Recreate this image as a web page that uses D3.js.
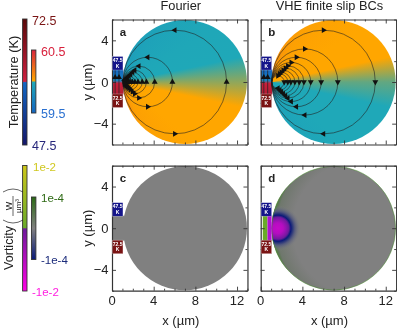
<!DOCTYPE html>
<html>
<head>
<meta charset="utf-8">
<script src="https://cdn.jsdelivr.net/npm/d3@7"></script>
<style>
  html, body { margin: 0; padding: 0; background: #fff; }
  #wrap { position: relative; width: 397px; height: 328px; overflow: hidden; }
  canvas, svg { position: absolute; left: 0; top: 0; }
  text { font-family: "Liberation Sans", Arial, sans-serif; fill: #222; }
  .axis path { stroke: #333; stroke-width: 1.2; }
  .axis line { stroke: #333; stroke-width: 0.9; }
</style>
</head>
<body>
<div id="wrap">
  <canvas id="field" width="397" height="328"></canvas>
  <svg id="chart" width="397" height="328"></svg>
</div>
<script>
const panelNames = ['a', 'b', 'c', 'd'];
const titles = ['Fourier', 'VHE finite slip BCs'];
const xTicks = [0, 4, 8, 12];
const xMinor = [1, 2, 3, 5, 6, 7, 9, 10, 11, 13];
const yTicks = [-4, 0, 4];
const yMinor = [-6, -2, 2, 6];

// disc and contacts, in µm
const discCentre = 7;
const discRadius = 5.95;
const sourceX = 1.05;
const leadLines = [0.3, 0.67];

// temperature round the source, angle clockwise from +x (degrees)
const fieldAngles = [0, 12, 40, 66, 80, 90, 270, 280, 300, 330, 348, 360];
const fieldTempA = [60.0, 60.05, 60.05, 60.07, 60.13, 60.2, 59.84, 59.87, 59.91, 59.94, 59.95, 60.0];
const fieldTempB = [59.98, 59.95, 59.95, 59.92, 59.87, 59.84, 60.2, 60.13, 60.07, 60.05, 60.05, 59.98];

// x where each streamline crosses the axis
const streamA = [11, 5.8, 4.1, 3.3, 2.9, 2.5, 2.2, 1.95, 1.75, 1.6, 1.45, 1.35];
const streamB = [11, 7.4, 5.8, 4.8, 4.15, 3.7, 3.28, 2.9, 2.6, 2.26];

// vorticity out from the blob centre in panel d
const blobRadius = [0, 0.5, 0.8, 1.05, 1.25, 1.6, 2.2];
const blobVort = [-6e-3, -5e-3, -2.5e-3, -1.3e-4, -1e-4, -4e-5, 0];

const tempStops = [59.5, 59.95, 60.05, 60.5];
const tempColors = ['#1565c0', '#1fa8b8', '#ffa600', '#d8243c'];
const vortStops = [-1e-2, -1.2e-4, -1e-4, 0, 1e-4, 1.2e-4, 1e-2];
const vortColors = ['#ff00e6', '#6f1a9c', '#0a1a78', '#808080', '#2a6a14', '#6aaa28', '#cfc81a'];

const wideStops = [47.5, 59.9, 60.1, 72.5];
const wideColors = ['#14166a', '#1267c4', '#d02040', '#5a0808'];

const tempColor = d3.scaleLinear().domain(tempStops).range(tempColors).clamp(true);
const vortColor = d3.scaleLinear().domain(vortStops).range(vortColors).clamp(true);
const wideColor = d3.scaleLinear().domain(wideStops).range(wideColors);

const pxPerUm = 10.42;
const panelLeft = [112, 260.7];
const panelTop = [19.5, 165.7];
const panelH = 125;

const svg = d3.select('#chart');
const ctx = document.getElementById('field').getContext('2d');

panelNames.forEach((name, i) => {
  const col = i % 2, row = i < 2 ? 0 : 1;
  const x = d3.scaleLinear().domain([0, 13]).range([panelLeft[col], panelLeft[col] + 13 * pxPerUm]);
  const y = d3.scaleLinear().domain([6, -6]).range([panelTop[row], panelTop[row] + panelH]);
  drawField(name, x, y);
  drawAxes(name, x, y, col, row);
  if (row == 0) drawStreams(col == 0 ? streamA : streamB, col == 0 ? 1 : -1, x, y);
  drawContacts(x, y);

  svg.append('text').attr('x', x(0) + 11).attr('y', y(6) + 16.5)
    .attr('text-anchor', 'middle').style('font-weight', 'bold').style('font-size', '11.5px').text(name);
});

function discPath(x, y) {
  ctx.beginPath();
  ctx.arc(x(discCentre), y(0), discRadius * pxPerUm, 0, Math.PI * 2);
}

function drawField(name, x, y) {
  ctx.save();
  discPath(x, y);
  ctx.clip();
  if (name == 'a' || name == 'b') {
    const temps = name == 'a' ? fieldTempA : fieldTempB;
    const g = ctx.createConicGradient(0, x(sourceX), y(0));
    fieldAngles.forEach((a, k) => g.addColorStop(a / 360, tempColor(temps[k])));
    ctx.fillStyle = g;
    ctx.fillRect(x(0), y(6), x(13) - x(0), y(-6) - y(6));
  } else {
    ctx.fillStyle = '#808080';
    ctx.fillRect(x(0), y(6), x(13) - x(0), y(-6) - y(6));
  }
  if (name == 'd') {
    // green rim, heavier on the contact side
    const off = discCentre + 2.5;
    const rim = ctx.createRadialGradient(x(off), y(0), 0, x(off), y(0), (discRadius + 2.5) * pxPerUm);
    rim.addColorStop(0.76, 'rgba(70,90,60,0)');
    rim.addColorStop(0.94, 'rgba(60,95,50,0.25)');
    rim.addColorStop(1, 'rgba(70,140,40,0.95)');
    ctx.fillStyle = rim;
    ctx.fillRect(x(0), y(6), x(13) - x(0), y(-6) - y(6));

    const bx = x(1.65), by = y(0);
    const outer = blobRadius[blobRadius.length - 1];
    const blob = ctx.createRadialGradient(bx, by, 0, bx, by, outer * pxPerUm);
    blobRadius.forEach((r, k) => {
      const c = d3.color(vortColor(blobVort[k]));
      if (k == blobRadius.length - 1) c.opacity = 0;
      blob.addColorStop(r / outer, c.formatRgb());
    });
    ctx.fillStyle = blob;
    ctx.fillRect(x(0), y(6), x(13) - x(0), y(-6) - y(6));
  }
  ctx.restore();

  if (name == 'd') {
    ctx.strokeStyle = 'rgba(70,140,40,0.7)';
    ctx.lineWidth = 0.7;
    discPath(x, y);
    ctx.stroke();
  }

  // leads between the two contact boxes
  const top = y(1.2), h = y(-1.2) - y(1.2);
  if (name == 'c') {
    ctx.fillStyle = '#808080';
    ctx.fillRect(x(0), top, x(1.2) - x(0), h);
  } else if (name == 'd') {
    ctx.fillStyle = vortColors[5];
    ctx.fillRect(x(0.2), top, x(0.65) - x(0.2), h);
    ctx.fillStyle = '#b010d0';
    ctx.fillRect(x(0.65), top, x(1.05) - x(0.65), h);
  } else {
    const g = ctx.createLinearGradient(0, top, 0, top + h);
    g.addColorStop(0, tempColor(59.5));
    g.addColorStop(0.45, tempColor(59.7));
    g.addColorStop(0.55, '#c8203c');
    g.addColorStop(1, '#b01c34');
    ctx.fillStyle = g;
    ctx.fillRect(x(0), top, x(1.1) - x(0), h);
  }
}

function drawAxes(name, x, y, col, row) {
  const g = svg.append('g').attr('class', 'axis');
  const sides = [
    [d3.axisBottom(x), y(-6), 0, -1, xTicks, xMinor],
    [d3.axisTop(x), y(6), 0, 1, xTicks, xMinor],
    [d3.axisLeft(y), x(0), 1, 1, yTicks, yMinor],
    [d3.axisRight(y), x(13), 1, -1, yTicks, yMinor]
  ];
  sides.forEach((s) => {
    const at = s[2] == 0 ? `translate(0,${s[1]})` : `translate(${s[1]},0)`;
    g.append('g').attr('transform', at)
      .call(s[0].tickValues(s[4].concat(s[5])).tickSizeOuter(0).tickSizeInner(0).tickFormat(''))
      .call((a) => a.selectAll('.tick line')
        .attr(s[2] == 0 ? 'y2' : 'x2', (d) => s[3] * (s[4].includes(d) ? 4 : 2)))
      .call((a) => a.selectAll('.tick text').remove());
  });
  if (row == 1) {
    xTicks.forEach((t) => {
      svg.append('text').attr('x', x(t)).attr('y', y(-6) + 14.5)
        .attr('text-anchor', 'middle').style('font-size', '13px').text(t);
    });
    svg.append('text').attr('x', x(6.6)).attr('y', 325)
      .attr('text-anchor', 'middle').style('font-size', '13px').text('x (µm)');
  }
  if (col == 0) {
    yTicks.forEach((t) => {
      svg.append('text').attr('x', x(0) - 3.5).attr('y', y(t) + 4.5)
        .attr('text-anchor', 'end').style('font-size', '13px').text(String(t).replace('-', '−'));
    });
    svg.append('text').attr('transform', `translate(92,${y(0)}) rotate(-90)`)
      .attr('text-anchor', 'middle').style('font-size', '13px').text('y (µm)');
  }
  if (row == 0) {
    svg.append('text').attr('x', x(6.6)).attr('y', 10)
      .attr('text-anchor', 'middle').style('font-size', '12.8px').text(titles[col]);
  }
}

function drawStreams(crossings, dir, x, y) {
  const g = svg.append('g');
  const arrow = d3.symbol().type(d3.symbolTriangle).size(15);
  leadLines.forEach((lx) => {
    g.append('line').attr('x1', x(lx)).attr('x2', x(lx)).attr('y1', y(1.15)).attr('y2', y(-1.15))
      .attr('stroke', '#222').attr('stroke-opacity', 0.8).attr('stroke-width', 0.9);
    g.append('path').attr('d', arrow)
      .attr('transform', `translate(${x(lx)},${y(0.45)}) rotate(0)`).attr('fill', '#111');
  });
  crossings.forEach((xr) => {
    const c = (sourceX + xr) / 2;
    const r = (xr - sourceX) / 2;
    g.append('circle')
      .attr('cx', x(c)).attr('cy', y(0)).attr('r', x(r) - x(0))
      .attr('fill', 'none').attr('stroke', '#222').attr('stroke-opacity', 0.65).attr('stroke-width', 0.9);
    // dir 1: anticlockwise on screen (up on the right), dir -1: clockwise
    const marks = [
      [xr, 0, dir > 0 ? 0 : 180],
      [c, r, dir > 0 ? -90 : 90],
      [c, -r, dir > 0 ? 90 : -90]
    ];
    marks.forEach((m) => {
      g.append('path').attr('d', arrow)
        .attr('transform', `translate(${x(m[0])},${y(m[1])}) rotate(${m[2]})`)
        .attr('fill', '#111');
    });
  });
}

function drawContacts(x, y) {
  const labels = ['47.5', '72.5'];
  const fills = ['#14148a', '#7a1414'];
  [[2.45, 1.15], [-1.15, -2.45]].forEach((b, k) => {
    const gx = x(0) + 0.4, w = x(1.05) - x(0) - 0.4;
    svg.append('rect').attr('x', gx).attr('y', y(b[0])).attr('width', w).attr('height', y(b[1]) - y(b[0]))
      .attr('fill', fills[k]).attr('stroke', '#fff').attr('stroke-opacity', 0.5).attr('stroke-width', 0.5);
    svg.append('text').attr('x', gx + w / 2).attr('y', y(b[0]) + 5.6).attr('text-anchor', 'middle')
      .style('font-size', '5px').style('font-weight', 'bold').style('fill', '#fff').text(labels[k]);
    svg.append('text').attr('x', gx + w / 2).attr('y', y(b[0]) + 11.3).attr('text-anchor', 'middle')
      .style('font-size', '5px').style('font-weight', 'bold').style('fill', '#fff').text('K');
  });
}

// colour bars
function colorBar(id, left, top, bottom, colorFn, samples) {
  const defs = svg.append('defs').append('linearGradient').attr('id', id)
    .attr('x1', 0).attr('y1', 1).attr('x2', 0).attr('y2', 0);
  samples.forEach((s) => {
    defs.append('stop').attr('offset', s[1]).attr('stop-color', colorFn(s[0]));
  });
  svg.append('rect').attr('x', left).attr('y', top).attr('width', 4.4).attr('height', bottom - top)
    .attr('fill', `url(#${id})`).attr('stroke', '#333').attr('stroke-width', 0.9);
}

colorBar('tw', 22.6, 19, 145, wideColor, wideStops.map((v, k) => [v, [0, 0.495, 0.505, 1][k]]));
colorBar('tn', 31.5, 50, 113, tempColor, tempStops.map((v, k) => [v, [0, 0.49, 0.51, 1][k]]));
colorBar('vw', 22.6, 165.5, 291, vortColor, [[-1e-2, 0], [-1.2e-4, 0.495], [1.2e-4, 0.505], [1e-2, 1]]);
colorBar('vn', 31.5, 197, 259.5, vortColor, [[-1e-4, 0], [0, 0.5], [1e-4, 1]]);

const barLabels = ['72.5', '60.5', '59.5', '47.5', '1e-2', '1e-4', '-1e-4', '-1e-2'];
const barLabelX = [32, 41, 41, 32, 33, 41, 41, 32];
const barLabelY = [24.5, 55.5, 118, 149.5, 171, 202, 264, 296];
const barLabelColor = ['#7a1414', '#d8203c', '#2a70d0', '#26267a', '#d0c820', '#2e6a14', '#1a2a7a', '#ff20e0'];
barLabels.forEach((t, k) => {
  svg.append('text').attr('x', barLabelX[k]).attr('y', barLabelY[k])
    .style('font-size', k < 4 ? '12.5px' : '11.5px').style('fill', barLabelColor[k]).text(t);
});

svg.append('text').attr('transform', 'translate(18,82) rotate(-90)').attr('text-anchor', 'middle')
  .style('font-size', '12.8px').text('Temperature (K)');
svg.append('text').attr('transform', 'translate(13,248) rotate(-90)').attr('text-anchor', 'middle')
  .style('font-size', '12.5px').text('Vorticity');

// (W / µm³) unit, turned with the axis title
const unit = svg.append('g').attr('transform', 'translate(13,206) rotate(-90)');
unit.append('text').attr('y', -1.5).attr('text-anchor', 'middle').style('font-size', '9px').text('W');
unit.append('line').attr('x1', -10).attr('x2', 10).attr('y1', 0).attr('y2', 0).attr('stroke', '#222').attr('stroke-width', 0.7);
unit.append('text').attr('y', 8).attr('text-anchor', 'middle').style('font-size', '8px').text('µm³');
unit.append('path').attr('d', 'M-14,-10 Q-20,0 -14,10 M14,-10 Q20,0 14,10').attr('fill', 'none').attr('stroke', '#222').attr('stroke-width', 0.7);
</script>
</body>
</html>
